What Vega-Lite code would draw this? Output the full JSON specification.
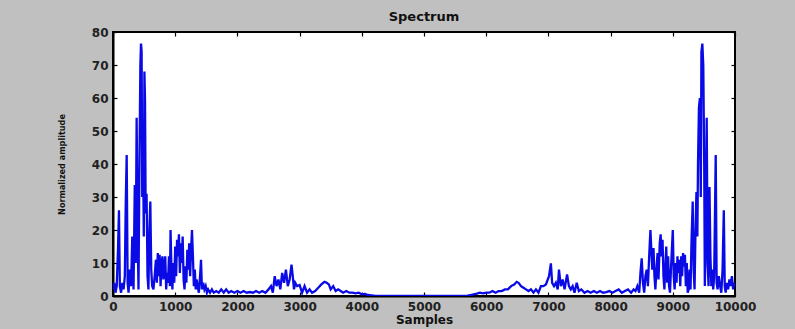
{
  "$schema": "https://vega.github.io/schema/vega-lite/v6.json",
  "autosize": {"type": "none"},
  "width": 622,
  "height": 264,
  "padding": {"left": 113, "top": 32, "right": 60, "bottom": 33},
  "background": "#c0c0c0",
  "title": {"text": "Spectrum", "font": "DejaVu Sans", "fontSize": 13, "fontWeight": "bold", "color": "#111", "offset": 2},
  "config": {
    "view": {"fill": "white", "stroke": "black", "strokeWidth": 2},
    "axis": {"domainColor": "black", "domainWidth": 2, "tickColor": "black", "tickWidth": 1.2, "tickSize": -4, "grid": false, "labelFlush": false,
      "labelFont": "DejaVu Sans", "labelFontWeight": "bold", "labelFontSize": 12, "labelColor": "#222", "labelPadding": 9,
      "titleFont": "DejaVu Sans", "titleFontWeight": "bold", "titleColor": "#111"}
  },
  "resolve": {"axis": {"x": "independent", "y": "independent"}},
  "data": {"values": [
    {"s":0,"v":2},{"s":20,"v":4},{"s":40,"v":1},{"s":60,"v":3},{"s":80,"v":14},{"s":96,"v":26},{"s":110,"v":3},{"s":130,"v":1},{"s":150,"v":4},{"s":170,"v":2},{"s":190,"v":6},{"s":205,"v":28},{"s":220,"v":42.7},{"s":235,"v":4},{"s":250,"v":1},{"s":270,"v":8},{"s":290,"v":3},{"s":310,"v":18},{"s":330,"v":2},{"s":350,"v":33.6},{"s":365,"v":10},{"s":380,"v":54},{"s":395,"v":20},{"s":410,"v":2},{"s":425,"v":40},{"s":440,"v":70},{"s":450,"v":76.5},{"s":460,"v":74},{"s":470,"v":30},{"s":480,"v":52},{"s":495,"v":18},{"s":505,"v":68},{"s":515,"v":59},{"s":525,"v":25},{"s":540,"v":31},{"s":555,"v":6},{"s":570,"v":2},{"s":585,"v":20},{"s":600,"v":28.6},{"s":615,"v":8},{"s":630,"v":3},{"s":650,"v":2},{"s":670,"v":6},{"s":690,"v":11},{"s":705,"v":4},{"s":720,"v":13},{"s":735,"v":6},{"s":750,"v":12.5},{"s":765,"v":3},{"s":780,"v":10},{"s":795,"v":12},{"s":810,"v":5},{"s":825,"v":9},{"s":840,"v":12},{"s":855,"v":2},{"s":870,"v":7},{"s":885,"v":4},{"s":900,"v":12},{"s":915,"v":3},{"s":925,"v":20},{"s":940,"v":8},{"s":955,"v":2},{"s":970,"v":10},{"s":985,"v":4},{"s":1000,"v":15},{"s":1015,"v":6},{"s":1030,"v":17},{"s":1045,"v":12},{"s":1060,"v":18.7},{"s":1075,"v":7},{"s":1090,"v":16},{"s":1105,"v":10},{"s":1120,"v":18},{"s":1135,"v":5},{"s":1150,"v":2},{"s":1165,"v":9},{"s":1180,"v":4},{"s":1195,"v":14},{"s":1210,"v":8},{"s":1225,"v":16},{"s":1240,"v":6},{"s":1255,"v":14},{"s":1270,"v":20},{"s":1285,"v":12},{"s":1300,"v":3},{"s":1315,"v":8},{"s":1330,"v":2},{"s":1345,"v":5},{"s":1360,"v":3},{"s":1380,"v":1},{"s":1400,"v":6},{"s":1415,"v":11},{"s":1430,"v":2},{"s":1450,"v":4},{"s":1470,"v":2},{"s":1490,"v":3},{"s":1510,"v":1},{"s":1530,"v":2},{"s":1560,"v":1},{"s":1590,"v":2},{"s":1620,"v":1},{"s":1660,"v":1.5},{"s":1700,"v":1},{"s":1740,"v":2},{"s":1780,"v":1},{"s":1820,"v":2},{"s":1860,"v":1},{"s":1900,"v":1.5},{"s":1950,"v":1},{"s":2000,"v":1.5},{"s":2050,"v":1},{"s":2100,"v":1.5},{"s":2150,"v":1},{"s":2200,"v":1.2},{"s":2250,"v":1},{"s":2300,"v":1.5},{"s":2350,"v":1},{"s":2400,"v":1.5},{"s":2450,"v":1},{"s":2500,"v":2},{"s":2540,"v":3},{"s":2570,"v":1},{"s":2600,"v":6},{"s":2630,"v":3},{"s":2660,"v":5},{"s":2690,"v":2},{"s":2720,"v":7},{"s":2750,"v":4},{"s":2780,"v":8},{"s":2810,"v":3},{"s":2840,"v":5},{"s":2870,"v":9.5},{"s":2890,"v":6},{"s":2910,"v":2},{"s":2930,"v":4},{"s":2960,"v":3},{"s":3000,"v":3.3},{"s":3040,"v":1},{"s":3080,"v":3},{"s":3120,"v":1},{"s":3160,"v":2},{"s":3200,"v":1},{"s":3250,"v":1.5},{"s":3300,"v":2.5},{"s":3350,"v":3.5},{"s":3400,"v":4.3},{"s":3435,"v":4},{"s":3470,"v":3.5},{"s":3500,"v":2},{"s":3540,"v":3},{"s":3580,"v":1.5},{"s":3620,"v":2},{"s":3660,"v":1.5},{"s":3700,"v":1},{"s":3750,"v":1.5},{"s":3800,"v":1},{"s":3850,"v":1},{"s":3900,"v":0.8},{"s":3950,"v":1},{"s":4000,"v":0.5},{"s":4050,"v":0.6},{"s":4100,"v":0.3},{"s":4150,"v":0.2},{"s":4200,"v":0.1},{"s":4300,"v":0},{"s":4500,"v":0},{"s":4960,"v":0},
    {"s":5600,"v":0},{"s":5700,"v":0.1},{"s":5750,"v":0.3},{"s":5800,"v":0.5},{"s":5850,"v":0.7},{"s":5900,"v":1},{"s":5950,"v":0.8},{"s":6000,"v":1},{"s":6050,"v":1},{"s":6100,"v":1.5},{"s":6150,"v":1},{"s":6200,"v":1.5},{"s":6250,"v":1.5},{"s":6300,"v":2},{"s":6350,"v":2},{"s":6400,"v":3},{"s":6450,"v":3.5},{"s":6490,"v":4.3},{"s":6520,"v":4},{"s":6560,"v":3},{"s":6600,"v":2.5},{"s":6640,"v":2},{"s":6680,"v":1.5},{"s":6720,"v":2},{"s":6760,"v":1},{"s":6800,"v":2},{"s":6840,"v":1},{"s":6880,"v":3},{"s":6920,"v":3},{"s":6960,"v":3.5},{"s":6990,"v":5},{"s":7010,"v":6},{"s":7040,"v":9.9},{"s":7060,"v":4},{"s":7090,"v":3},{"s":7120,"v":4},{"s":7150,"v":2},{"s":7170,"v":8},{"s":7200,"v":3},{"s":7230,"v":5},{"s":7260,"v":2},{"s":7300,"v":6.5},{"s":7330,"v":3},{"s":7360,"v":2},{"s":7390,"v":3},{"s":7420,"v":1},{"s":7455,"v":4},{"s":7490,"v":1.5},{"s":7530,"v":2},{"s":7580,"v":1},{"s":7630,"v":1.5},{"s":7680,"v":1},{"s":7730,"v":1.5},{"s":7780,"v":1},{"s":7830,"v":1.5},{"s":7880,"v":1},{"s":7930,"v":1.2},{"s":7980,"v":1.5},{"s":8030,"v":1},{"s":8080,"v":1.5},{"s":8130,"v":2},{"s":8180,"v":1},{"s":8230,"v":1.5},{"s":8280,"v":2},{"s":8330,"v":1},{"s":8370,"v":2},{"s":8400,"v":1.5},{"s":8430,"v":3},{"s":8460,"v":1},{"s":8480,"v":7},{"s":8500,"v":11.4},{"s":8520,"v":4},{"s":8540,"v":1},{"s":8560,"v":6},{"s":8580,"v":8},{"s":8600,"v":3},{"s":8620,"v":12},{"s":8640,"v":20},{"s":8655,"v":14},{"s":8670,"v":8},{"s":8690,"v":14.5},{"s":8705,"v":6},{"s":8720,"v":2},{"s":8740,"v":9},{"s":8755,"v":13},{"s":8770,"v":5},{"s":8790,"v":16},{"s":8805,"v":18.7},{"s":8820,"v":12},{"s":8835,"v":17},{"s":8850,"v":6},{"s":8865,"v":2},{"s":8880,"v":9},{"s":8895,"v":15},{"s":8910,"v":4},{"s":8925,"v":12},{"s":8940,"v":3},{"s":8955,"v":1},{"s":8970,"v":8},{"s":8985,"v":14},{"s":9000,"v":20},{"s":9015,"v":6},{"s":9030,"v":2},{"s":9045,"v":10},{"s":9060,"v":4},{"s":9075,"v":12},{"s":9090,"v":7},{"s":9105,"v":11},{"s":9120,"v":3},{"s":9135,"v":12},{"s":9150,"v":6},{"s":9165,"v":13},{"s":9180,"v":9},{"s":9195,"v":12.5},{"s":9210,"v":3},{"s":9225,"v":10},{"s":9240,"v":1},{"s":9255,"v":2},{"s":9270,"v":8},{"s":9285,"v":2},{"s":9300,"v":16},{"s":9320,"v":28.6},{"s":9335,"v":8},{"s":9350,"v":2},{"s":9365,"v":20},{"s":9380,"v":31.5},{"s":9395,"v":18},{"s":9405,"v":40},{"s":9420,"v":57},{"s":9435,"v":60},{"s":9450,"v":30},{"s":9460,"v":74},{"s":9475,"v":76.5},{"s":9490,"v":70},{"s":9505,"v":40},{"s":9515,"v":3},{"s":9530,"v":20},{"s":9545,"v":54},{"s":9560,"v":10},{"s":9575,"v":3},{"s":9590,"v":33},{"s":9605,"v":12},{"s":9620,"v":3},{"s":9635,"v":8},{"s":9650,"v":2},{"s":9665,"v":6},{"s":9690,"v":42.7},{"s":9705,"v":4},{"s":9720,"v":2},{"s":9740,"v":6},{"s":9760,"v":3},{"s":9780,"v":1},{"s":9800,"v":8},{"s":9820,"v":26},{"s":9835,"v":3},{"s":9850,"v":1},{"s":9870,"v":4},{"s":9890,"v":2},{"s":9910,"v":5},{"s":9930,"v":3},{"s":9950,"v":6},{"s":9970,"v":2},{"s":9990,"v":4},{"s":10000,"v":3}
  ]},
  "layer": [
    {
      "mark": {"type": "line", "color": "#0a0ae6", "strokeWidth": 2.3, "clip": true},
      "encoding": {
        "x": {"field": "s", "type": "quantitative", "scale": {"domain": [0, 10000], "nice": false, "zero": false},
          "axis": {"orient": "bottom", "format": "d", "title": "Samples", "titleFontSize": 12, "titlePadding": 2, "values": [0,1000,2000,3000,4000,5000,6000,7000,8000,9000,10000]}},
        "y": {"field": "v", "type": "quantitative", "scale": {"domain": [0, 80], "nice": false},
          "axis": {"orient": "left", "title": "Normalized amplitude", "titleFont": "DejaVu Sans Condensed", "titleFontSize": 9, "titlePadding": 25, "values": [0,10,20,30,40,50,60,70,80]}}
      }
    },
    {
      "mark": {"type": "line", "opacity": 0},
      "encoding": {
        "x": {"field": "s", "type": "quantitative", "scale": {"domain": [0, 10000], "nice": false, "zero": false}, "axis": {"orient": "top", "labels": false, "title": null, "domain": false, "values": [0,1000,2000,3000,4000,5000,6000,7000,8000,9000,10000]}},
        "y": {"field": "v", "type": "quantitative", "scale": {"domain": [0, 80], "nice": false}, "axis": {"orient": "right", "labels": false, "title": null, "domain": false, "values": [0,10,20,30,40,50,60,70,80]}}
      }
    }
  ]
}
